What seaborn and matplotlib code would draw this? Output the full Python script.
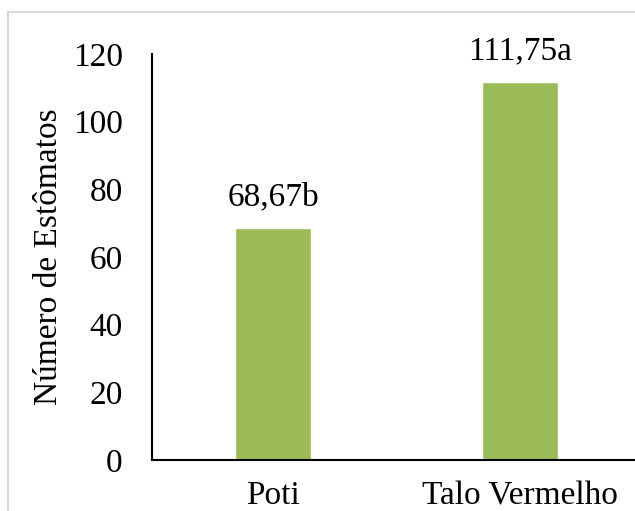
import matplotlib
matplotlib.use("Agg")
import matplotlib.pyplot as plt
import seaborn as sns
import pandas as pd
from matplotlib.patches import Rectangle

categories = ["Poti", "Talo Vermelho"]
values = [68.67, 111.75]
labels = ["68,67b", "111,75a"]
yticks = [0, 20, 40, 60, 80, 100, 120]

sns.set_theme(style="white")
plt.rcParams['font.family'] = ['Liberation Serif', 'DejaVu Serif']
plt.rcParams['text.color'] = 'black'
plt.rcParams['xtick.color'] = 'black'
plt.rcParams['ytick.color'] = 'black'
plt.rcParams['axes.labelcolor'] = 'black'

df = pd.DataFrame({"cat": categories, "val": values})

fs = 24
fig = plt.figure(figsize=(6.35, 5.11), dpi=100)
fig.patches.append(Rectangle((8/635, -0.1), 1.2, (511-12)/511 + 0.1, transform=fig.transFigure,
                             fill=False, edgecolor="#d9d9d9", linewidth=1.5, zorder=0))
ax = fig.add_axes([152/635, 51/511, 483/635, 406/511])
sns.barplot(data=df, x="cat", y="val", color="#9BBB59", width=0.31, saturation=1, ax=ax)
ax.set_xlim(-0.49, 1.465)
ax.set_ylim(0, 120)
ax.set_yticks(yticks)
ax.set_yticklabels([str(t) for t in yticks], fontsize=fs)
ax.tick_params(axis="y", length=0, pad=21)
ax.tick_params(axis="x", length=0, pad=15, labelsize=fs)
ax.set_xlabel("")
ax.set_ylabel("Número de Estômatos", fontsize=fs, labelpad=6)
for s in ["top", "right"]:
    ax.spines[s].set_visible(False)
for s in ["left", "bottom"]:
    ax.spines[s].set_color("black")
    ax.spines[s].set_linewidth(1.5)
for i, (v, lab) in enumerate(zip(values, labels)):
    ax.annotate(lab, (i, v), xytext=(0, 22), textcoords="offset points",
                ha="center", va="center", fontsize=fs)
fig.savefig("out.png", dpi=100)
